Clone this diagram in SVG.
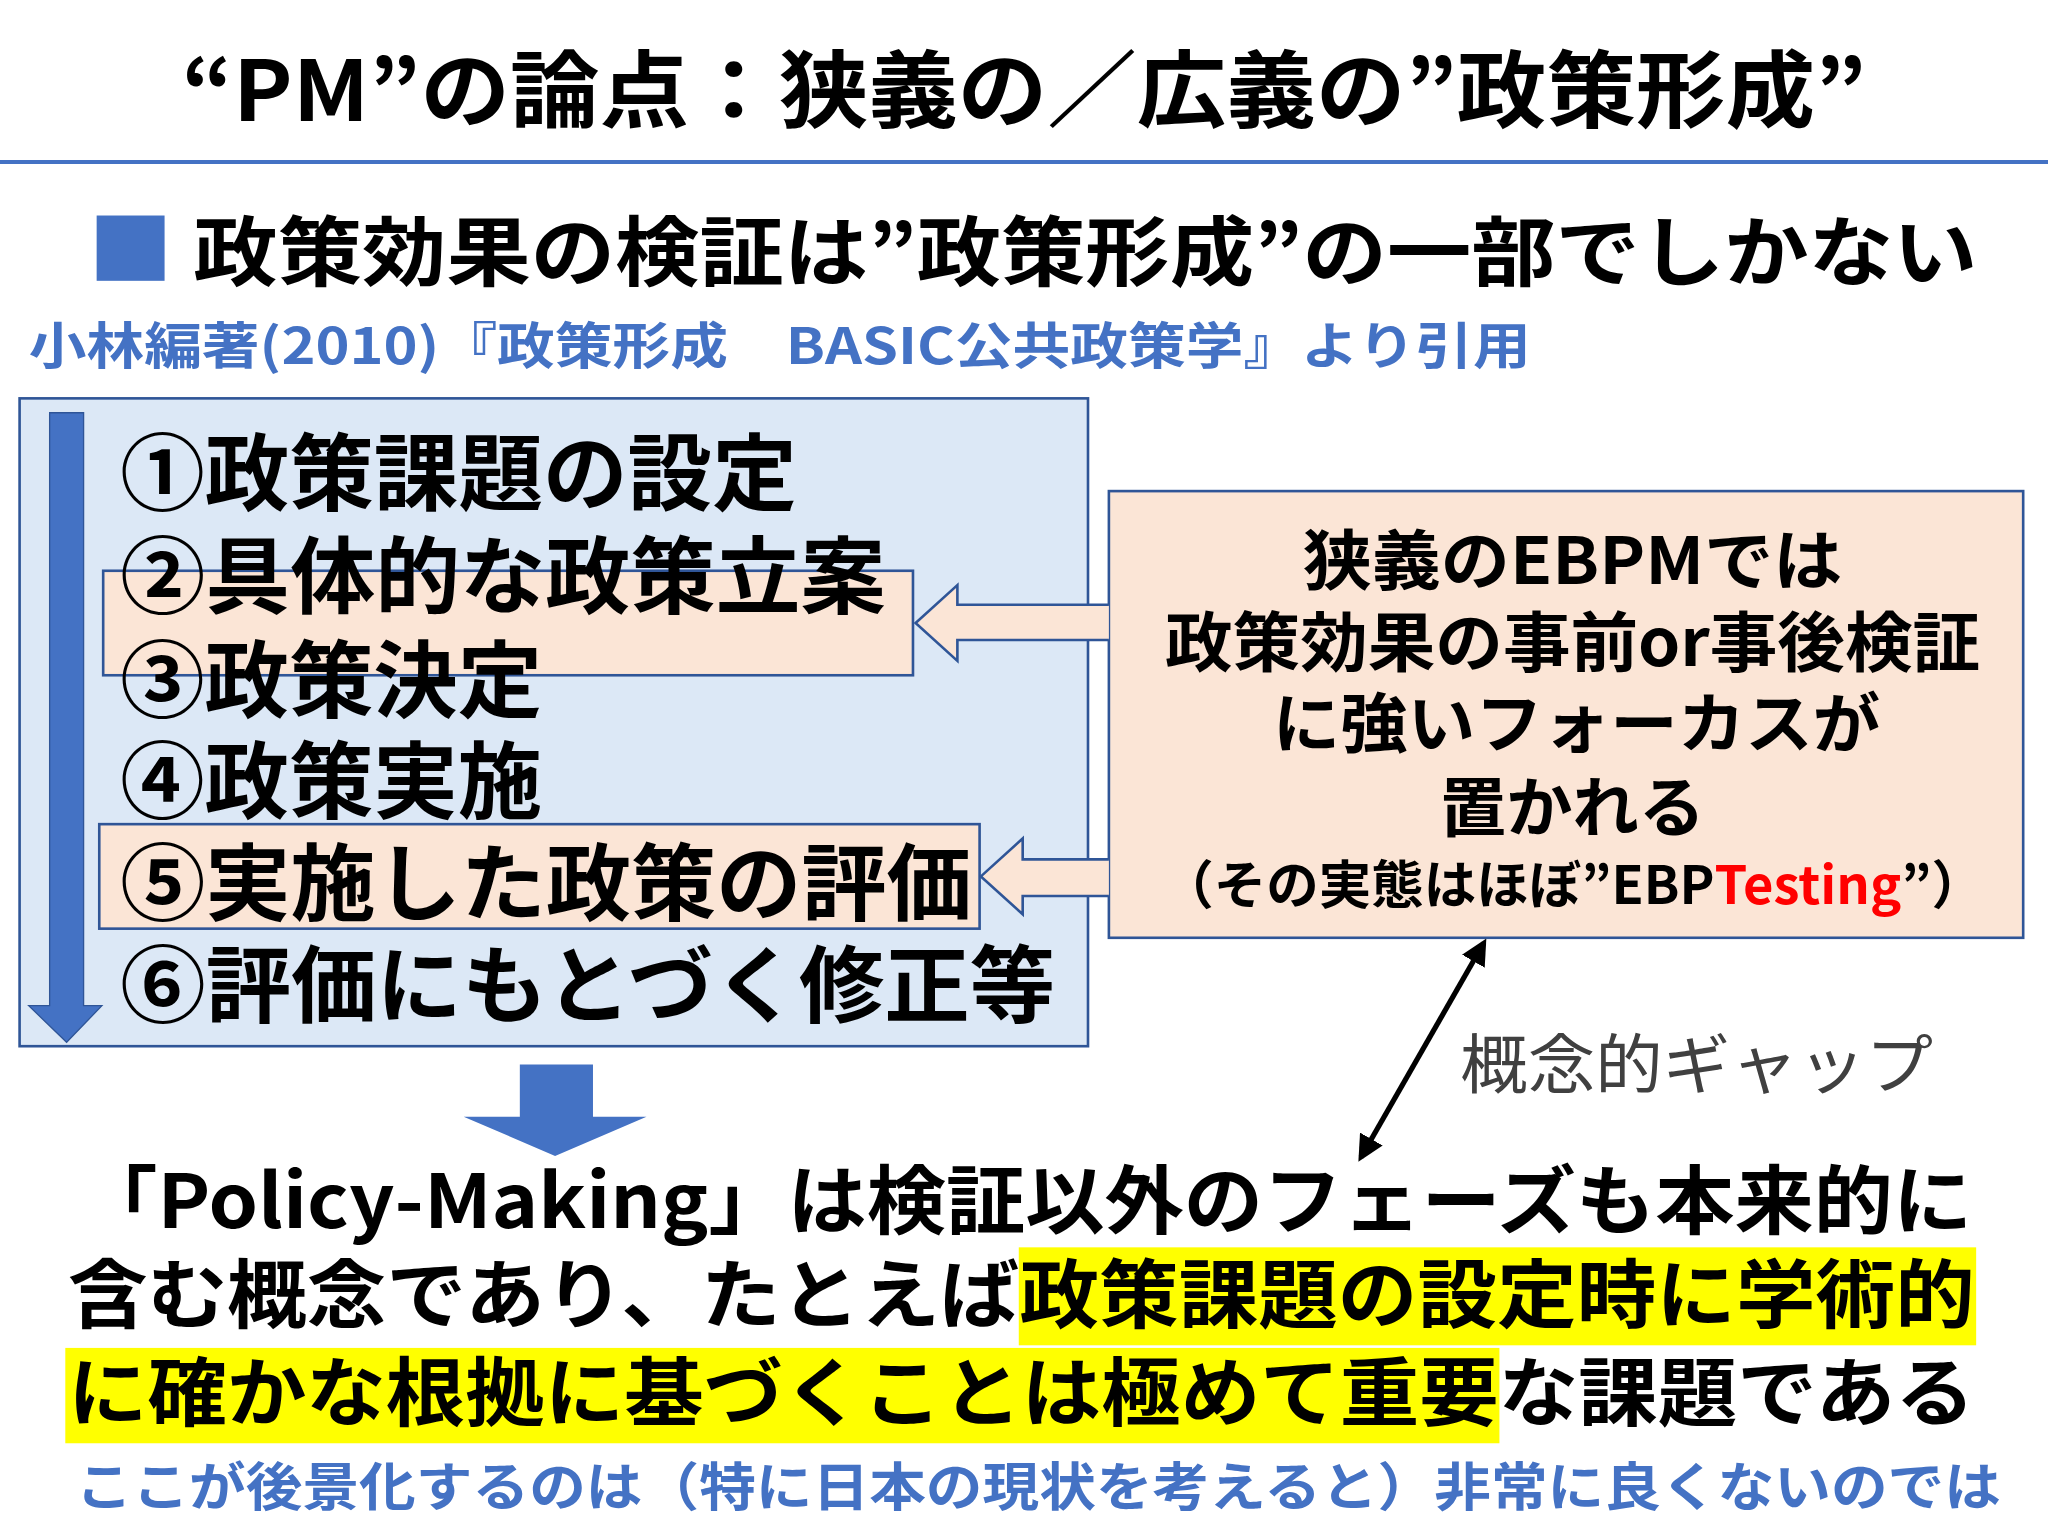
<svg xmlns="http://www.w3.org/2000/svg" width="2048" height="1536" viewBox="0 0 2048 1536">
<style>
text{font-family:"Noto Sans CJK JP","Noto Sans",sans-serif;font-weight:bold;fill:#000}
.blue{fill:#4472C4}
.li{font-size:64px}
.box{stroke:#2F5597;stroke-width:2}
.peach{fill:#FBE5D6}
.rt{font-size:50px;text-anchor:middle}
.bt{font-size:57px}
</style>
<defs>
<marker id="ah" viewBox="0 0 10 10" refX="8" refY="5" markerWidth="5" markerHeight="5" orient="auto-start-reverse"><path d="M0,0L10,5L0,10z" fill="#000"/></marker>
</defs>
<rect width="2048" height="1536" fill="#fff"/>
<g transform="scale(1.30612)">
<g id="title">
<text x="784" y="93" font-size="64" text-anchor="middle" textLength="1290" lengthAdjust="spacingAndGlyphs">“PM”の論点：狭義の／広義の”政策形成”</text>
<line x1="0" y1="124" x2="1568" y2="124" stroke="#4472C4" stroke-width="3"/>
</g>
<g id="subtitle">
<rect x="74" y="165" width="52" height="50" fill="#4472C4"/>
<text x="148" y="214" font-size="58" textLength="1366" lengthAdjust="spacingAndGlyphs">政策効果の検証は”政策形成”の一部でしかない</text>
<text x="22" y="279" font-size="38" class="blue" textLength="1150" lengthAdjust="spacingAndGlyphs">小林編著(2010)『政策形成　BASIC公共政策学』より引用</text>
</g>
<g id="process">
<rect x="15" y="305" width="818" height="496" fill="#DCE8F6" class="box"/>
<path d="M38,316H64V770H78L51,798L22,770H38Z" fill="#4472C4" stroke="#2F5597" stroke-width="1"/>
<rect x="79" y="437" width="620" height="80" class="peach box"/>
<rect x="76" y="631" width="674" height="80" class="peach box"/>
<text x="92" y="386" class="li" textLength="518" lengthAdjust="spacingAndGlyphs">①政策課題の設定</text>
<text x="92" y="465" class="li" textLength="586" lengthAdjust="spacingAndGlyphs">②具体的な政策立案</text>
<text x="92" y="544" class="li" textLength="323" lengthAdjust="spacingAndGlyphs">③政策決定</text>
<text x="92" y="622" class="li" textLength="323" lengthAdjust="spacingAndGlyphs">④政策実施</text>
<text x="92" y="700" class="li" textLength="652" lengthAdjust="spacingAndGlyphs">⑤実施した政策の評価</text>
<text x="92" y="778" class="li" textLength="716" lengthAdjust="spacingAndGlyphs">⑥評価にもとづく修正等</text>
</g>
<g id="ebpm">
<rect x="849" y="376" width="700" height="342" class="peach box"/>
<text x="1204" y="447" class="rt" textLength="413" lengthAdjust="spacingAndGlyphs">狭義のEBPMでは</text>
<text x="1204" y="510" class="rt" textLength="624" lengthAdjust="spacingAndGlyphs">政策効果の事前or事後検証</text>
<text x="1207" y="572" class="rt" textLength="465" lengthAdjust="spacingAndGlyphs">に強いフォーカスが</text>
<text x="1204" y="636" class="rt" textLength="203" lengthAdjust="spacingAndGlyphs">置かれる</text>
<text x="1204" y="692" font-size="40" text-anchor="middle" textLength="630" lengthAdjust="spacingAndGlyphs">（その実態はほぼ”EBP<tspan fill="#FF0000">Testing</tspan>”）</text>
</g>
<g id="connectors">
<path d="M849,463H733V448L701,477L733,506V490H849" class="peach box"/>
<path d="M849,658H783V642L751,671L783,700V686H849" class="peach box"/>
<path d="M398,815H454V855H495L425,885L355,855H398Z" fill="#4472C4"/>
<line x1="1136" y1="722" x2="1042" y2="886" stroke="#000" stroke-width="4" marker-start="url(#ah)" marker-end="url(#ah)"/>
<text x="1118" y="833" font-size="50" style="font-weight:normal;fill:#404040" textLength="362" lengthAdjust="spacingAndGlyphs">概念的ギャップ</text>
</g>
<g id="conclusion">
<rect x="780" y="955" width="733" height="75" fill="#FFFF00"/>
<rect x="50" y="1032" width="1098" height="73" fill="#FFFF00"/>
<text x="60" y="940" class="bt" textLength="1450" lengthAdjust="spacingAndGlyphs">「Policy-Making」は検証以外のフェーズも本来的に</text>
<text x="52" y="1012" class="bt" textLength="1460" lengthAdjust="spacingAndGlyphs">含む概念であり、たとえば政策課題の設定時に学術的</text>
<text x="52" y="1087" class="bt" textLength="1460" lengthAdjust="spacingAndGlyphs">に確かな根拠に基づくことは極めて重要な課題である</text>
<text x="58" y="1153" font-size="40" class="blue" textLength="1474" lengthAdjust="spacingAndGlyphs">ここが後景化するのは（特に日本の現状を考えると）非常に良くないのでは</text>
</g>
</g>
</svg>
